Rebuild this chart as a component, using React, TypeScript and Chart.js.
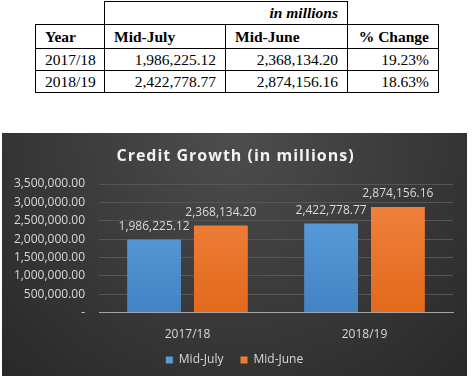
import React, { useEffect, useRef } from "react";
import { Chart, registerables } from "chart.js";

Chart.register(...registerables);

const categories = ["2017/18", "2018/19"];
const seriesNames = ["Mid-July", "Mid-June"];
const midJuly = [1986225.12, 2422778.77];
const midJune = [2368134.2, 2874156.16];
const pctChange = ["19.23%", "18.63%"];
const chartTitle = "Credit Growth (in millions)";
const tableNote = "in millions";
const yMax = 3500000;
const yStep = 500000;

const seriesTop = ["#60a2de", "#f28541"];
const seriesBottom = ["#4383c4", "#e2691c"];
const legendSwatch = ["#5b9bd5", "#ed7d31"];

const fmt = (v: number) =>
  v.toLocaleString("en-US", { minimumFractionDigits: 2, maximumFractionDigits: 2 });

const bgPlugin = {
  id: "bgGradient",
  beforeDraw(chart: any) {
    const { ctx, width, height } = chart;
    ctx.save();
    const g = ctx.createRadialGradient(width / 2, 0, 10, width / 2, 0, width * 0.75);
    g.addColorStop(0, "#4c4c4c");
    g.addColorStop(1, "#272727");
    ctx.fillStyle = g;
    ctx.fillRect(0, 0, width, height);
    ctx.restore();
  },
};

const decorPlugin = {
  id: "decor",
  afterDraw(chart: any) {
    const { ctx, width } = chart;
    ctx.save();
    ctx.font = "bold 16px 'Open Sans'";
    try {
      (ctx as any).letterSpacing = "1px";
    } catch (e) {}
    ctx.fillStyle = "#f2f2f2";
    ctx.textAlign = "center";
    ctx.textBaseline = "middle";
    ctx.fillText(chartTitle, width / 2 + 1, 23);
    try {
      (ctx as any).letterSpacing = "0px";
    } catch (e) {}
    ctx.font = "12px 'Open Sans'";
    ctx.textAlign = "left";
    const box = 7;
    const gapText = 6;
    const gapItem = 17;
    const widths = seriesNames.map((n) => box + gapText + ctx.measureText(n).width);
    const total = widths.reduce((a, b) => a + b, 0) + gapItem * (widths.length - 1);
    let x = width / 2 - total / 2;
    const y = 227;
    seriesNames.forEach((n, i) => {
      ctx.fillStyle = legendSwatch[i];
      ctx.fillRect(x, y - box / 2, box, box);
      ctx.fillStyle = "#d9d9d9";
      ctx.fillText(n, x + box + gapText, y);
      x += widths[i] + gapItem;
    });
    ctx.restore();
  },
};

const labelPlugin = {
  id: "valueLabels",
  afterDatasetsDraw(chart: any) {
    const { ctx } = chart;
    ctx.save();
    ctx.font = "12px 'Open Sans'";
    ctx.fillStyle = "#d9d9d9";
    ctx.textAlign = "center";
    ctx.textBaseline = "middle";
    chart.data.datasets.forEach((ds: any, i: number) => {
      const meta = chart.getDatasetMeta(i);
      meta.data.forEach((bar: any, j: number) => {
        ctx.fillText(fmt(ds.data[j]), bar.x, bar.y - 13.5);
      });
    });
    ctx.restore();
  },
};

const grad = (ctx: any, top: string, bottom: string) => {
  const area = ctx.chart.chartArea;
  if (!area) return top;
  const g = ctx.chart.ctx.createLinearGradient(0, area.top, 0, area.bottom);
  g.addColorStop(0, top);
  g.addColorStop(1, bottom);
  return g;
};

const cellBorder = "1px solid #000";
const serif = '"Liberation Serif", "Times New Roman", Times, "DejaVu Serif", serif';

export default function App() {
  const ref = useRef<HTMLCanvasElement>(null);

  useEffect(() => {
    if (!ref.current) return;
    const chart = new Chart(ref.current, {
      type: "bar",
      data: {
        labels: categories,
        datasets: [midJuly, midJune].map((d, i) => ({
          label: seriesNames[i],
          data: d,
          backgroundColor: (c: any) => grad(c, seriesTop[i], seriesBottom[i]),
          categoryPercentage: 0.755,
          barPercentage: 0.806,
        })),
      },
      options: {
        responsive: false,
        animation: false,
        layout: { padding: { left: 0, right: 14, top: 51, bottom: 27 } },
        plugins: {
          title: { display: false },
          legend: { display: false },
          tooltip: { enabled: false },
        },
        scales: {
          x: {
            grid: { display: false },
            border: { color: "#a6a6a6", width: 1 },
            ticks: { color: "#d9d9d9", font: { family: "'Open Sans'", size: 12 }, padding: 7 },
          },
          y: {
            min: 0,
            max: yMax,
            afterFit: (s: any) => {
              s.width = 97;
            },
            ticks: {
              stepSize: yStep,
              autoSkip: false,
              color: "#d9d9d9",
              font: { family: "'Open Sans'", size: 12 },
              padding: 14,
              callback: (v: any) => (Number(v) === 0 ? "-" : fmt(Number(v))),
            },
            grid: { color: "#565656", drawTicks: false },
            border: { display: false },
          },
        },
      },
      plugins: [bgPlugin, labelPlugin, decorPlugin],
    } as any);
    return () => chart.destroy();
  }, []);

  const td = (extra: any = {}) => ({
    border: cellBorder,
    padding: "0 9px",
    fontSize: "15.5px",
    lineHeight: "18px",
    fontFamily: serif,
    ...extra,
  });

  return (
    <div style={{ position: "absolute", left: 0, top: 0, width: 472, height: 383, background: "#fff", overflow: "hidden" }}>
      <table
        style={{
          position: "absolute",
          left: 35,
          top: 1,
          borderCollapse: "collapse",
          tableLayout: "fixed",
          width: 403,
          fontFamily: serif,
          color: "#000",
        }}
      >
        <colgroup>
          <col style={{ width: 69 }} />
          <col style={{ width: 121 }} />
          <col style={{ width: 122 }} />
          <col style={{ width: 91 }} />
        </colgroup>
        <tbody>
          <tr style={{ height: 23 }}>
            <td style={{ border: "none" }}></td>
            <td colSpan={2} style={td({ textAlign: "right", fontStyle: "italic", fontWeight: "bold" })}>
              {tableNote}
            </td>
            <td style={{ border: "none" }}></td>
          </tr>
          <tr style={{ height: 24 }}>
            <td style={td({ fontWeight: "bold" })}>Year</td>
            <td style={td({ fontWeight: "bold" })}>{seriesNames[0]}</td>
            <td style={td({ fontWeight: "bold" })}>{seriesNames[1]}</td>
            <td style={td({ fontWeight: "bold", textAlign: "right" })}>% Change</td>
          </tr>
          {categories.map((c, i) => (
            <tr key={c} style={{ height: 22 }}>
              <td style={td()}>{c}</td>
              <td style={td({ textAlign: "right" })}>{fmt(midJuly[i])}</td>
              <td style={td({ textAlign: "right" })}>{fmt(midJune[i])}</td>
              <td style={td({ textAlign: "right" })}>{pctChange[i]}</td>
            </tr>
          ))}
        </tbody>
      </table>
      <div style={{ position: "absolute", left: 2, top: 133, width: 465, height: 243 }}>
        <canvas ref={ref} width={465} height={243} style={{ display: "block" }} />
      </div>
    </div>
  );
}
